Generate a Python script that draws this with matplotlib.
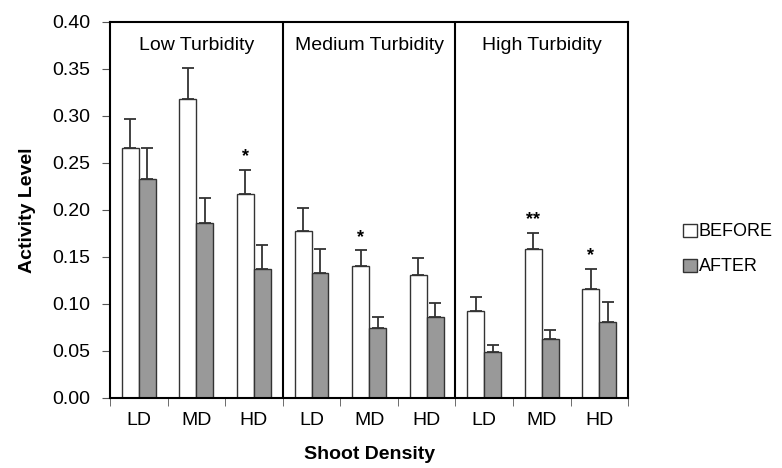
import numpy as np
import matplotlib
matplotlib.use("Agg")
import matplotlib.pyplot as plt

plt.rcParams['font.family'] = ['Liberation Sans', 'DejaVu Sans']

# shoot density categories, one set per turbidity panel
density = ["LD", "MD", "HD"]
turbidity = ["Low Turbidity", "Medium Turbidity", "High Turbidity"]

before = [0.266, 0.318, 0.217, 0.178, 0.140, 0.131, 0.093, 0.159, 0.116]
before_err = [0.031, 0.033, 0.026, 0.024, 0.017, 0.018, 0.014, 0.017, 0.021]
after = [0.233, 0.186, 0.137, 0.133, 0.074, 0.086, 0.049, 0.063, 0.081]
after_err = [0.033, 0.027, 0.026, 0.025, 0.012, 0.015, 0.007, 0.009, 0.021]
stars = ["", "", "*", "", "*", "", "", "**", "*"]

x = np.arange(len(before))
w = 0.295

fig = plt.figure(figsize=(7.82, 4.68), dpi=100)
ax = fig.add_axes([0.1407, 0.1496, 0.6625, 0.8034])

ekw = dict(ecolor="#333333", elinewidth=1.3, capsize=4, capthick=1.3)
ax.bar(x - w / 2, before, w, color="white", edgecolor="#333333", linewidth=1.0,
       yerr=[np.zeros(len(x)), before_err], error_kw=ekw, label="BEFORE")
ax.bar(x + w / 2, after, w, color="#999999", edgecolor="#333333", linewidth=1.0,
       yerr=[np.zeros(len(x)), after_err], error_kw=ekw, label="AFTER")

for i, s in enumerate(stars):
    if s:
        ax.text(x[i] - w / 2, before[i] + before_err[i] + 0.005, s,
                ha="center", va="bottom", fontsize=13, fontweight="bold")

# panel separators and titles
for k, name in enumerate(turbidity):
    if k > 0:
        ax.axvline(3 * k - 0.5, color="black", lw=1.5)
    ax.text(3 * k + 1, 0.375, name, ha="center", va="center", fontsize=14)

ax.set_xlim(-0.5, len(x) - 0.5)
ax.set_ylim(0, 0.40)
ax.set_yticks(np.arange(0, 0.41, 0.05))
ax.set_yticklabels(["%.2f" % v for v in np.arange(0, 0.41, 0.05)], fontsize=14)
ax.set_xticks(x)
ax.set_xticklabels(density * 3, fontsize=14)
ax.set_xticks(np.arange(-0.5, len(x), 1), minor=True)
ax.tick_params(axis="x", which="major", length=0, pad=10)
ax.tick_params(axis="x", which="minor", length=6, direction="out", color="#555555")
ax.tick_params(axis="y", length=6, direction="out", color="#555555", pad=8)

for sp in ax.spines.values():
    sp.set_linewidth(1.5)

ax.set_ylabel("Activity Level", fontsize=14, fontweight="bold", labelpad=12)
ax.set_xlabel("Shoot Density", fontsize=14, fontweight="bold", labelpad=12)

fig.legend(loc="center left", bbox_to_anchor=(0.874, 0.467), frameon=False,
           fontsize=13, handlelength=0.75, handleheight=0.75, handletextpad=0.1,
           labelspacing=1.0, borderaxespad=0, borderpad=0)

fig.savefig("out.png", dpi=100)
